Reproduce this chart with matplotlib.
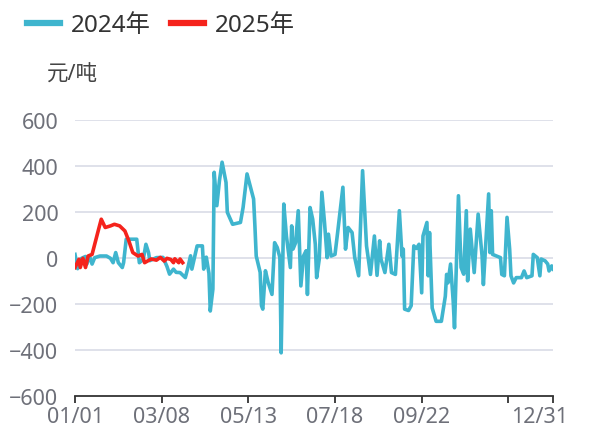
import numpy as np
import pandas as pd
import matplotlib
matplotlib.use('Agg')
import matplotlib.pyplot as plt
import matplotlib.transforms as mtransforms

plt.rcParams['font.family'] = ['Noto Sans', 'Noto Sans CJK SC', 'DejaVu Sans']

# ============================================================
# DATA (day index on a 365-day MM/DD category axis, value in 元/吨)
# ============================================================
categories = pd.date_range('2023-01-01', '2023-12-31').strftime('%m/%d').tolist()

days_2024 = [0, 2, 5, 8, 9, 11, 13, 15, 19, 24, 27, 29, 31, 33, 36, 37, 39, 44, 47,
             49, 52, 54, 56, 57, 62, 67, 70, 72, 75, 77, 80, 84, 86, 88, 89, 93, 97,
             98, 100, 102, 103, 105, 106, 108, 110, 112, 115, 116, 120, 126, 128,
             131, 136, 137, 138, 141, 142, 143, 145, 147, 150, 152, 154, 156, 157,
             159, 161, 164, 165, 166, 168, 170, 172, 174, 176, 177, 179, 181, 183,
             184, 186, 188, 190, 192, 193, 195, 198, 200, 204, 206, 208, 211, 213,
             216, 219, 222, 225, 228, 230, 232, 233, 236, 239, 241, 244, 247, 249,
             250, 251, 254, 256, 258, 260, 262, 264, 265, 268, 269, 270, 272, 275,
             279, 282, 283, 284, 286, 288, 289, 292, 294, 296, 298, 299, 301, 304,
             307, 310, 311, 315, 316, 317, 318, 321, 324, 325, 327, 329, 331, 332,
             334, 336, 340, 342, 344, 348, 349, 352, 354, 355, 358, 360, 361, 363, 364]
values_2024 = [17, -45, 0, 8, -25, 10, -25, 3, 10, 10, 0, -19, 25, -19, -40, -19, 83, 83, 83,
               -19, -4, 61, 25, -10, 3, 4, -35, -69, -47, -61, -62, -84, -40, 11, -47, 54, 54,
               -47, 5, -65, -229, -134, 374, 229, 338, 418, 330, 200, 148, 156, 221,
               367, 258, 141, 10, -61, -206, -221, -54, -103, -157, 68, 47, 4, -411,
               236, 97, -40, 141, 40, 68, 207, -120, 10, 33, -157, 221, 170, 61,
               -84, -4, 287, 156, 3, 105, 10, 17, 112, 309, 40, 134, 112, 4,
               -76, 381, 54, -70, 97, -74, 76, -3, -62, 61, -62, -70, 207, 10,
               40, -221, -227, -206, 54, 43, 61, -150, 97, 156, -76, 112, -216, -274,
               -274, -165, -70, -107, -25, -186, -302, 272, -40, -69, 207, -98, 127, -62,
               192, 10, -114, 280, 25, 207, 17, 10, 3, -70, -76, 178, 40, -76,
               -107, -84, -84, -55, -84, -76, 17, 3, -76, -3, -11, -25, -55, -33, -47]

days_2025 = [0, 3, 4, 6, 8, 10, 13, 15, 18, 20, 23, 27, 30, 34, 38, 41, 44, 48,
             51, 53, 58, 62, 65, 68, 70, 73, 75, 76, 79, 80, 82]
values_2025 = [-40, -4, -40, 0, -40, 10, 17, 61, 127, 170, 134, 141, 148, 141, 119, 76, 25, 10,
               17, -19, -3, -8, 4, -12, 0, -5, -19, -2, -19, -3, -19]

tick_idx = [0, 66, 132, 198, 264, 330, 364]
y_ticks = [-600, -400, -200, 0, 200, 400, 600]

C_2024 = '#3fb5ce'
C_2025 = '#f5231c'

# ============================================================
# PLOT
# ============================================================
fig = plt.figure(figsize=(5.92, 4.39), dpi=100)
ax = fig.add_axes([0.1267, 0.095, 0.8074, 0.6286])

ax.plot(days_2024, values_2024, color=C_2024, linewidth=2.6, label='2024年',
        solid_joinstyle='round', zorder=3)
ax.plot(days_2025, values_2025, color=C_2025, linewidth=2.6, label='2025年',
        solid_joinstyle='round', zorder=4)

ax.set_xlim(0, len(categories) - 1)
ax.set_ylim(-600, 600)

ax.set_xticks(tick_idx)
ax.set_xticklabels([categories[i] if i != 330 else '' for i in tick_idx])
ax.set_yticks(y_ticks)

for v in y_ticks[1:]:
    ax.axhline(v, color='#d9dbe6', linewidth=1.2, zorder=1)

for s in ['top', 'right', 'left']:
    ax.spines[s].set_visible(False)
ax.spines['bottom'].set_color('#333333')
ax.spines['bottom'].set_linewidth(1.3)

ax.tick_params(axis='x', colors='#333333', length=5, width=1.3, labelsize=15.5,
               labelcolor='#6e7079', pad=2)
ax.tick_params(axis='y', length=0, labelsize=15.5, labelcolor='#6e7079', pad=12)

# last label (12/31) sits a little left of its tick
last_lbl = ax.get_xticklabels()[-1]
last_lbl.set_transform(last_lbl.get_transform() +
                       mtransforms.ScaledTranslation(-13 / 100, 0, fig.dpi_scale_trans))

fig.text(47 / 592, 1 - 75 / 439, '元/吨', fontsize=15.5, color='#444444',
         va='center', ha='left')

fig.legend(loc='upper left', bbox_to_anchor=(15 / 592, 1 - 2 / 439), frameon=False,
           ncol=2, fontsize=17.5, handlelength=1.35, handletextpad=0.45,
           columnspacing=0.85, borderpad=0, labelcolor='#333333')
for line in fig.legends[0].get_lines():
    line.set_linewidth(4.5)

fig.savefig('out.png', dpi=100)
